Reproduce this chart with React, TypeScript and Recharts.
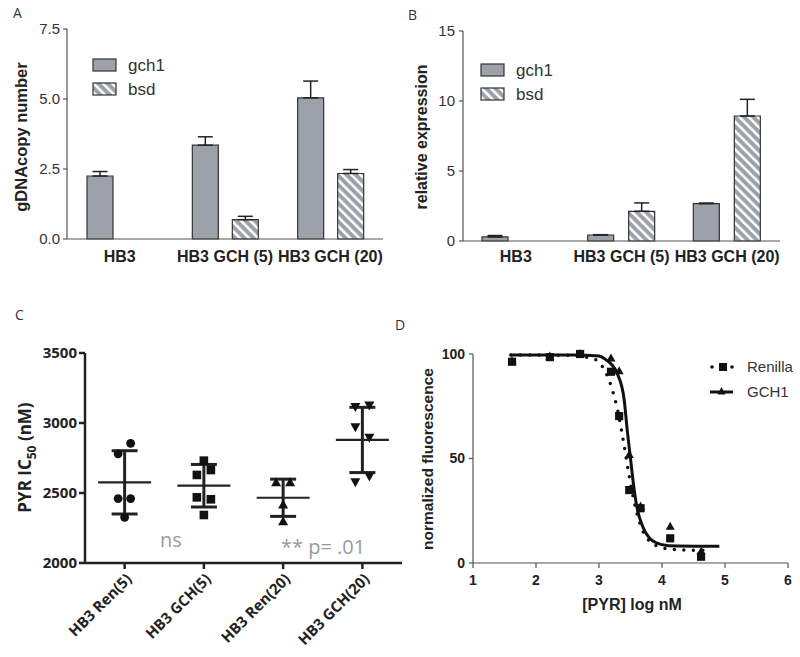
import React from 'react';
import { BarChart, Bar, XAxis, YAxis, ErrorBar, ComposedChart, Scatter, Line, Legend } from 'recharts';

const ARIAL = '"Liberation Sans", Arial, Helvetica, sans-serif';
const OPEN = '"Open Sans", "Noto Sans", sans-serif';
const BAR_GRAY = '#9da2aa';
const INK = '#222';

// ---------- Panel A: gDNA copy number ----------
const cellLines = ['HB3', 'HB3 GCH (5)', 'HB3 GCH (20)'];
const copyGch1 = [2.25, 3.35, 5.04];
const copyGch1Err = [0.16, 0.3, 0.6];
const copyBsd: (number | null)[] = [null, 0.69, 2.34];
const copyBsdErr: (number | null)[] = [null, 0.12, 0.14];
const copyTicks = [0, 2.5, 5, 7.5];

// ---------- Panel B: relative expression ----------
const exprGch1 = [0.29, 0.43, 2.67];
const exprGch1Err = [0.1, 0.02, 0.04];
const exprBsd: (number | null)[] = [null, 2.12, 8.93];
const exprBsdErr: (number | null)[] = [null, 0.6, 1.19];
const exprTicks = [0, 5, 10, 15];

// ---------- Panel C: PYR IC50 ----------
const icGroups = ['HB3 Ren(5)', 'HB3 GCH(5)', 'HB3 Ren(20)', 'HB3 GCH(20)'];
const icRen5 = [2780, 2855, 2460, 2460, 2326];
const icGch5 = [2731, 2629, 2664, 2469, 2455, 2343];
const icRen20 = [2574, 2574, 2414, 2295];
const icGch20 = [3117, 3129, 2974, 2898, 2581, 2621];
const icMean = [2576, 2552, 2466, 2879];
const icSD = [226, 152, 133, 233];
const icTicks = [2000, 2500, 3000, 3500];

// ---------- Panel D: dose response ----------
const logDose = [1.62, 2.22, 2.7, 3.19, 3.32, 3.48, 3.66, 4.13, 4.62];
const renillaPts = [96.3, 98.5, 100, 91.5, 70.3, 34.9, 26.2, 11.8, 3.0];
const gch1Pts = [96.5, 98.8, 100, 97.9, 91.8, 51.7, 27.0, 17.4, 5.4];
const renillaFitX = [1.6, 2.5, 2.9, 3.0, 3.1, 3.2, 3.3, 3.4, 3.5, 3.6, 3.7, 3.8, 3.95, 4.2, 4.78];
const renillaFitY = [99.5, 99.4, 97.8, 96, 91.5, 84, 72.5, 56, 38, 24, 15, 10.5, 7.8, 6.4, 6];
const gch1FitX = [1.6, 2.6, 3.0, 3.1, 3.2, 3.3, 3.4, 3.45, 3.5, 3.55, 3.6, 3.7, 3.8, 3.9, 4.1, 4.91];
const gch1FitY = [99.5, 99.5, 99, 97.5, 95, 90, 78, 63, 50, 37, 27, 17, 12, 9.8, 8.3, 8];
const doseTicks = [1, 2, 3, 4, 5, 6];
const fluorTicks = [0, 50, 100];

// ---------- styling constants (pixel offsets for jittered dots) ----------
const JITTER_C = [
  [-6.5, 6, -6.5, 6, 0],
  [0, -7, 7, -7, 7, 0],
  [-7, 7, 0, 0],
  [-7, 7, -7, 7, -7, 7],
];
const MARKER_C = ['circle', 'square', 'triUp', 'triDown'];

// ---------- tables ----------
const copyData = cellLines.map((name, i) => ({
  name,
  gch1: copyGch1[i],
  gch1Err: [0, copyGch1Err[i]],
  bsd: copyBsd[i],
  bsdErr: copyBsdErr[i] == null ? null : [0, copyBsdErr[i] as number],
}));
const exprData = cellLines.map((name, i) => ({
  name,
  gch1: exprGch1[i],
  gch1Err: [0, exprGch1Err[i]],
  bsd: exprBsd[i],
  bsdErr: exprBsdErr[i] == null ? null : [0, exprBsdErr[i] as number],
}));
const icSets = [icRen5, icGch5, icRen20, icGch20];
const icPoints = icSets.map((vals, g) => vals.map((y, k) => ({ x: g + 0.5, y, g, k })));
const icSummary = icMean.map((y, g) => ({ x: g + 0.5, y, sd: icSD[g] }));
const renillaData = logDose.map((x, i) => ({ x, y: renillaPts[i] }));
const gch1Data = logDose.map((x, i) => ({ x, y: gch1Pts[i] }));
const renillaFit = renillaFitX.map((x, i) => ({ x, y: renillaFitY[i] }));
const gch1Fit = gch1FitX.map((x, i) => ({ x, y: gch1FitY[i] }));

// ---------- helpers ----------
const Marker = ({ kind, cx, cy, s = 1 }: { kind: string; cx: number; cy: number; s?: number }) => {
  if (cx == null || cy == null || isNaN(cx) || isNaN(cy)) return null;
  if (kind === 'circle') return <circle cx={cx} cy={cy} r={4.4 * s} fill="#111" />;
  if (kind === 'square') return <rect x={cx - 4.3 * s} y={cy - 4.3 * s} width={8.6 * s} height={8.6 * s} fill="#111" />;
  if (kind === 'triUp')
    return <polygon points={`${cx},${cy - 5.5 * s} ${cx - 5 * s},${cy + 3.5 * s} ${cx + 5 * s},${cy + 3.5 * s}`} fill="#111" />;
  return <polygon points={`${cx},${cy + 5.5 * s} ${cx - 5 * s},${cy - 3.5 * s} ${cx + 5 * s},${cy - 3.5 * s}`} fill="#111" />;
};

const vTitle = (text: React.ReactNode, x: number, y: number, size: number, family: string) => () =>
  (
    <text
      x={x}
      y={y}
      transform={`rotate(-90 ${x} ${y})`}
      textAnchor="middle"
      fontFamily={family}
      fontWeight={700}
      fontSize={size}
      fill={INK}
    >
      {text}
    </text>
  );

const hatchDefs = (id: string) => (
  <defs>
    <pattern id={id} patternUnits="userSpaceOnUse" width={6.5} height={6.5} patternTransform="rotate(-45)">
      <rect width={6.5} height={6.5} fill={BAR_GRAY} />
      <rect width={2.5} height={6.5} fill="#ffffff" />
    </pattern>
  </defs>
);

const barLegend = (hatchId: string) => () =>
  (
    <svg width={110} height={46} style={{ display: 'block', overflow: 'visible' }}>
      <rect x={1} y={3} width={23} height={12} fill={BAR_GRAY} stroke="#333" strokeWidth={1.2} />
      <text x={36} y={15} fontSize={17} fontFamily={ARIAL} fill="#333">gch1</text>
      <rect x={1} y={27} width={23} height={12} fill={`url(#${hatchId})`} stroke="#333" strokeWidth={1.2} />
      <text x={36} y={39} fontSize={17} fontFamily={ARIAL} fill="#333">bsd</text>
    </svg>
  );

const ICTick = (props: any) => {
  const { x, y, payload } = props;
  const label = icGroups[Math.floor(payload.value)];
  const px = x + 8;
  const py = y + 9;
  return (
    <text
      x={px}
      y={py}
      transform={`rotate(-45 ${px} ${py})`}
      textAnchor="end"
      fontFamily={OPEN}
      fontWeight={700}
      fontSize={15}
      fill={INK}
    >
      {label}
    </text>
  );
};

const doseLegend = () => (
  <svg width={95} height={50} style={{ display: 'block', overflow: 'visible' }}>
    <circle cx={7} cy={12} r={1.8} fill="#111" />
    <rect x={14} y={8} width={8} height={8} fill="#111" />
    <circle cx={27} cy={12} r={1.8} fill="#111" />
    <text x={42} y={17} fontSize={15} fontFamily={ARIAL} fill="#333">Renilla</text>
    <line x1={5} x2={28} y1={37} y2={37} stroke="#111" strokeWidth={3} />
    <polygon points="16.5,32 12.5,39.5 20.5,39.5" fill="#111" />
    <text x={42} y={42} fontSize={15} fontFamily={ARIAL} fill="#333">GCH1</text>
  </svg>
);

const yTickA = { fontSize: 15, fill: '#333', fontFamily: ARIAL };
const xTickA = { fontSize: 16, fill: INK, fontFamily: ARIAL, fontWeight: 700 };
const grayAxis = { stroke: '#555', strokeWidth: 1.2 };

export default function App() {
  return (
    <div style={{ position: 'absolute', left: 0, top: 0, width: 800, height: 657, background: '#fff', overflow: 'hidden' }}>
      {/* Panel A */}
      <div style={{ position: 'absolute', left: 0, top: 0 }}>
        <BarChart width={400} height={300} data={copyData} margin={{ top: 29, right: 17, bottom: 31, left: 17 }} barSize={26} barGap={14}>
          {hatchDefs('hatchA')}
          <XAxis dataKey="name" height={30} tickLine={false} tickSize={0} tickMargin={12} interval={0} axisLine={grayAxis} tick={xTickA} />
          <YAxis
            width={50}
            domain={[0, 7.5]}
            ticks={copyTicks}
            tickFormatter={(v: number) => v.toFixed(1)}
            tickSize={4}
            tickMargin={3}
            axisLine={grayAxis}
            tickLine={grayAxis}
            tick={yTickA}
            label={vTitle('gDNAcopy number', 27, 137, 16.5, ARIAL)}
          />
          <Legend layout="horizontal" verticalAlign="middle" align="center" wrapperStyle={{ left: 92, top: 56, width: 110, height: 46 }} content={barLegend('hatchA')} />
          <Bar dataKey="gch1" fill={BAR_GRAY} stroke="#333" strokeWidth={1.2} isAnimationActive={false}>
            <ErrorBar dataKey="gch1Err" width={7.5} stroke="#222" strokeWidth={1.5} direction="y" />
          </Bar>
          <Bar dataKey="bsd" fill="url(#hatchA)" stroke="#333" strokeWidth={1.2} isAnimationActive={false}>
            <ErrorBar dataKey="bsdErr" width={7.5} stroke="#222" strokeWidth={1.5} direction="y" />
          </Bar>
        </BarChart>
      </div>

      {/* Panel B */}
      <div style={{ position: 'absolute', left: 400, top: 0 }}>
        <BarChart width={400} height={300} data={exprData} margin={{ top: 31, right: 20, bottom: 29, left: 13 }} barSize={26} barGap={15}>
          {hatchDefs('hatchB')}
          <XAxis dataKey="name" height={30} tickLine={false} tickSize={0} tickMargin={10} interval={0} axisLine={grayAxis} tick={xTickA} />
          <YAxis
            width={50}
            domain={[0, 15]}
            ticks={exprTicks}
            tickSize={4}
            tickMargin={4}
            axisLine={grayAxis}
            tickLine={grayAxis}
            tick={yTickA}
            label={vTitle('relative expression', 27, 137, 16, ARIAL)}
          />
          <Legend layout="horizontal" verticalAlign="middle" align="center" wrapperStyle={{ left: 80, top: 61, width: 110, height: 46 }} content={barLegend('hatchB')} />
          <Bar dataKey="gch1" fill={BAR_GRAY} stroke="#333" strokeWidth={1.2} isAnimationActive={false}>
            <ErrorBar dataKey="gch1Err" width={7.5} stroke="#222" strokeWidth={1.5} direction="y" />
          </Bar>
          <Bar dataKey="bsd" fill="url(#hatchB)" stroke="#333" strokeWidth={1.2} isAnimationActive={false}>
            <ErrorBar dataKey="bsdErr" width={7.5} stroke="#222" strokeWidth={1.5} direction="y" />
          </Bar>
        </BarChart>
      </div>

      {/* Panel C */}
      <div style={{ position: 'absolute', left: 0, top: 300 }}>
        <ComposedChart width={420} height={357} margin={{ top: 53, right: 18, bottom: 4, left: 25 }}>
          <XAxis
            type="number"
            dataKey="x"
            domain={[0, 4]}
            ticks={[0.5, 1.5, 2.5, 3.5]}
            interval={0}
            height={90}
            tickSize={6}
            tickMargin={2}
            axisLine={{ stroke: INK, strokeWidth: 2.5 }}
            tickLine={{ stroke: INK, strokeWidth: 2.5 }}
            tick={<ICTick />}
          />
          <YAxis
            type="number"
            dataKey="y"
            width={60}
            domain={[2000, 3500]}
            ticks={icTicks}
            tickSize={6}
            tickMargin={2}
            axisLine={{ stroke: INK, strokeWidth: 2.5 }}
            tickLine={{ stroke: INK, strokeWidth: 2.5 }}
            tick={{ fontSize: 15, fontWeight: 700, fill: INK, fontFamily: OPEN }}
            label={vTitle(
              <>
                PYR IC<tspan fontSize={12} dy={5}>50</tspan>
                <tspan dy={-5}> (nM)</tspan>
              </>,
              31,
              157.5,
              17,
              OPEN
            )}
          />
          {icPoints.map((pts, g) => (
            <Scatter
              key={g}
              data={pts}
              isAnimationActive={false}
              shape={(p: any) => <Marker kind={MARKER_C[g]} cx={p.cx + JITTER_C[g][p.payload.k]} cy={p.cy} />}
            />
          ))}
          <Scatter
            data={icSummary}
            isAnimationActive={false}
            shape={(p: any) => <line x1={p.cx - 26.5} x2={p.cx + 26.5} y1={p.cy} y2={p.cy} stroke={INK} strokeWidth={2.2} />}
          >
            <ErrorBar dataKey="sd" direction="y" width={13} stroke={INK} strokeWidth={3} />
          </Scatter>
        </ComposedChart>
      </div>

      {/* Panel D */}
      <div style={{ position: 'absolute', left: 400, top: 300 }}>
        <ComposedChart width={400} height={357} margin={{ top: 54, right: 12, bottom: 34, left: 13 }}>
          <XAxis
            type="number"
            dataKey="x"
            domain={[1, 6]}
            ticks={doseTicks}
            interval={0}
            height={60}
            tickSize={5}
            tickMargin={7}
            axisLine={grayAxis}
            tickLine={grayAxis}
            tick={{ fontSize: 14, fontWeight: 700, fill: INK, fontFamily: ARIAL }}
            label={() => (
              <text x={232} y={310} textAnchor="middle" fontFamily={ARIAL} fontWeight={700} fontSize={16} fill={INK}>
                [PYR] log nM
              </text>
            )}
          />
          <YAxis
            type="number"
            dataKey="y"
            width={60}
            domain={[0, 100]}
            ticks={fluorTicks}
            tickSize={4}
            tickMargin={4}
            axisLine={grayAxis}
            tickLine={grayAxis}
            tick={{ fontSize: 14, fontWeight: 700, fill: INK, fontFamily: ARIAL }}
            label={vTitle('normalized fluorescence', 33, 159, 15.5, ARIAL)}
          />
          <Legend layout="horizontal" verticalAlign="middle" align="center" wrapperStyle={{ left: 305, top: 55, width: 95, height: 50 }} content={doseLegend} />
          <Line
            data={renillaFit}
            dataKey="y"
            type="monotone"
            stroke="#111"
            strokeWidth={3.5}
            strokeDasharray="0 9.5"
            strokeLinecap="round"
            dot={false}
            activeDot={false}
            isAnimationActive={false}
          />
          <Line
            data={gch1Fit}
            dataKey="y"
            type="monotone"
            stroke="#111"
            strokeWidth={3}
            dot={false}
            activeDot={false}
            isAnimationActive={false}
          />
          <Scatter data={gch1Data} isAnimationActive={false} shape={(p: any) => <Marker kind="triUp" cx={p.cx} cy={p.cy} s={0.9} />} />
          <Scatter data={renillaData} isAnimationActive={false} shape={(p: any) => <Marker kind="square" cx={p.cx} cy={p.cy} s={0.95} />} />
        </ComposedChart>
      </div>

      {/* panel letters and significance notes */}
      <svg width={800} height={657} style={{ position: 'absolute', left: 0, top: 0, pointerEvents: 'none' }}>
        <text x={13} y={18} fontFamily={OPEN} fontSize={14} fill="#333">A</text>
        <text x={408} y={20} fontFamily={OPEN} fontSize={14} fill="#333">B</text>
        <text x={15} y={320} fontFamily={OPEN} fontSize={14} fill="#333">C</text>
        <text x={395} y={330} fontFamily={OPEN} fontSize={14} fill="#333">D</text>
        <text x={160} y={547} fontFamily={OPEN} fontSize={20} fill="#9a9a9a">ns</text>
        <text x={281} y={554} fontFamily={OPEN} fontSize={20} fill="#9a9a9a">** p= .01</text>
      </svg>
    </div>
  );
}
